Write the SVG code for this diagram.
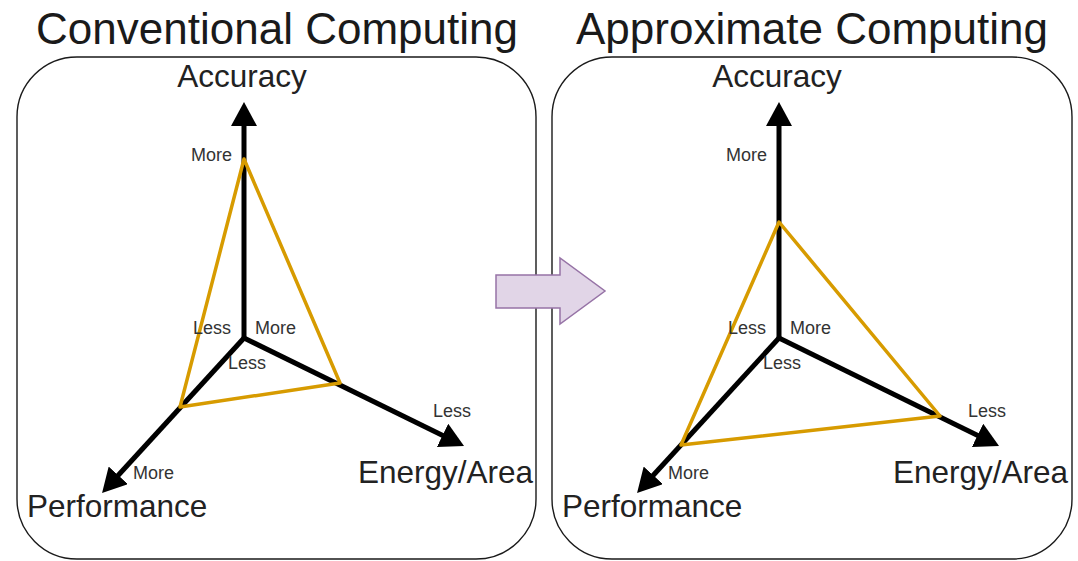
<svg xmlns="http://www.w3.org/2000/svg" width="1078" height="561" viewBox="0 0 1078 561">
<style>
.box{fill:#ffffff;stroke:#1a1a1a;stroke-width:1.4}
.title{font-family:"Liberation Sans",Arial,sans-serif;font-size:44px;fill:#1a1a1a;text-anchor:middle}
.axis-label{font-family:"Liberation Sans",Arial,sans-serif;font-size:31.5px;fill:#222222}
.small{font-family:"Liberation Sans",Arial,sans-serif;font-size:18px;fill:#333333}
.axis{stroke:#000000;stroke-width:5;fill:none;marker-end:url(#head)}
.tri{fill:none;stroke:#d79b00;stroke-width:3.5;stroke-linejoin:round}
</style>
<defs>
<marker id="head" viewBox="0 0 24 26" markerWidth="24" markerHeight="26" refX="2" refY="13" markerUnits="userSpaceOnUse" orient="auto">
<path d="M0,0 L24,13 L0,26 Z" fill="#000000"/>
</marker>
</defs>
<rect width="1078" height="561" fill="#ffffff"/>

<g id="title-conventional"><text class="title" x="277" y="44">Conventional Computing</text></g>
<g id="title-approximate"><text class="title" x="812" y="44">Approximate Computing</text></g>

<g id="panel-conventional"><rect class="box" x="17" y="57" width="519" height="502" rx="60" ry="60"/></g>
<g id="panel-approximate"><rect class="box" x="552" y="57" width="520" height="502" rx="60" ry="60"/></g>

<g id="connectors">
<line class="axis" x1="244" y1="338" x2="244" y2="124"/>
<line class="axis" x1="244" y1="338" x2="444.3" y2="436.3"/>
<line class="axis" x1="244" y1="338" x2="116.9" y2="476.8"/>
<polygon class="tri" points="244,159 340,383 180,407"/>

<line class="axis" x1="779" y1="338" x2="779" y2="124"/>
<line class="axis" x1="779" y1="338" x2="979.3" y2="436.3"/>
<line class="axis" x1="779" y1="338" x2="651.9" y2="476.8"/>
<polygon class="tri" points="779,222 940,416 681,445"/>
</g>

<g id="labels-conventional">
<text class="axis-label" x="242" y="87" text-anchor="middle">Accuracy</text>
<text class="axis-label" x="27" y="517">Performance</text>
<text class="axis-label" x="358" y="483">Energy/Area</text>
<text class="small" x="232" y="161" text-anchor="end">More</text>
<text class="small" x="231" y="334" text-anchor="end">Less</text>
<text class="small" x="255" y="334">More</text>
<text class="small" x="228" y="369">Less</text>
<text class="small" x="133" y="479">More</text>
<text class="small" x="433" y="417">Less</text>
</g>

<g id="labels-approximate">
<text class="axis-label" x="777" y="87" text-anchor="middle">Accuracy</text>
<text class="axis-label" x="562" y="517">Performance</text>
<text class="axis-label" x="893" y="483">Energy/Area</text>
<text class="small" x="767" y="161" text-anchor="end">More</text>
<text class="small" x="766" y="334" text-anchor="end">Less</text>
<text class="small" x="790" y="334">More</text>
<text class="small" x="763" y="369">Less</text>
<text class="small" x="668" y="479">More</text>
<text class="small" x="968" y="417">Less</text>
</g>

<g id="transition-arrow">
<path d="M496,275 L560,275 L560,258 L605,291 L560,324 L560,308 L496,308 Z" fill="#e1d5e7" stroke="#9673a6" stroke-width="1.5" stroke-linejoin="miter"/>
</g>
</svg>
